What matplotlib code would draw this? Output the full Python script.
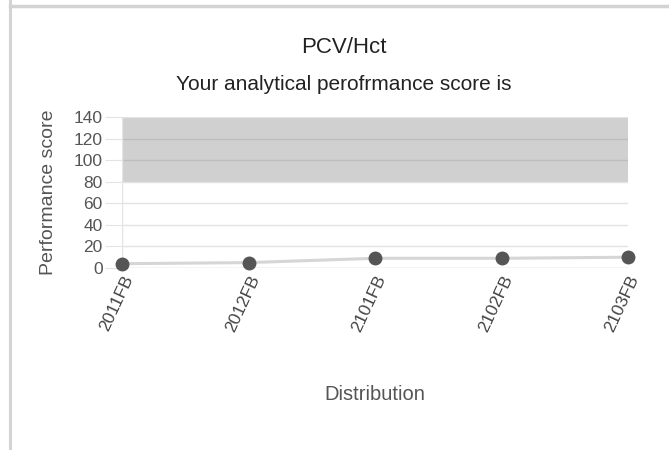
import matplotlib.pyplot as plt
import matplotlib.transforms as mtransforms
import numpy as np

plt.rcParams['font.family'] = ['Liberation Sans', 'DejaVu Sans']

# data
distributions = ['2011FB', '2012FB', '2101FB', '2102FB', '2103FB']
scores = [4, 5, 9, 9, 10]
band_low, band_high = 80, 140
y_ticks = [0, 20, 40, 60, 80, 100, 120, 140]

fig = plt.figure(figsize=(6.69, 4.5), dpi=100)
W, H = 669, 450

# frame lines of the surrounding panel
fig.add_artist(plt.Line2D([10 / W, 10 / W], [0, 1], color='#d3d3d3', lw=2.2))
fig.add_artist(plt.Line2D([10 / W, 1], [1 - 6 / H, 1 - 6 / H], color='#d3d3d3', lw=2.5))

ax = fig.add_axes([122 / W, 182 / H, 506 / W, 151 / H])
x = np.arange(len(distributions))

ax.axhspan(band_low, band_high, color='#d0d0d0', zorder=0, lw=0)
for yv in y_ticks:
    c = '#bdbdbd' if band_low < yv < band_high else '#e3e3e3'
    if yv == 0:
        c = '#c8c8c8'
    ax.axhline(yv, color=c, lw=1.0, zorder=1)
ax.axvline(0, color='#e3e3e3', lw=1.0, zorder=1)

ax.plot(x, scores, color='#d6d6d6', lw=2.2, zorder=2, clip_on=False)
ax.plot(x, scores, 'o', color='#555555', ms=9, zorder=3, clip_on=False)

ax.set_xlim(0, len(distributions) - 1)
ax.set_ylim(0, 140)
ax.set_yticks(y_ticks)
ax.set_xticks(x)
ax.set_xticklabels(distributions, rotation=65, ha='right', va='top',
                   rotation_mode='anchor', fontsize=12.5, color='#444444')
offset = mtransforms.ScaledTranslation(-3 / 100, -10.5 / 100, fig.dpi_scale_trans)
for lbl in ax.get_xticklabels():
    lbl.set_transform(lbl.get_transform() + offset)
ax.tick_params(axis='y', length=12, color='#e3e3e3', labelsize=12.5, labelcolor='#555555', pad=2)
ax.tick_params(axis='x', length=0)
for s in ax.spines.values():
    s.set_visible(False)

ax.set_ylabel('Performance score', fontsize=14, color='#555555')
ax.yaxis.set_label_coords((57 - 122) / 506, 0.5)

fig.text(344 / W, 1 - 53 / H, 'PCV/Hct', ha='center', va='baseline', fontsize=16, color='#222222')
fig.text(344 / W, 1 - 90 / H, 'Your analytical perofrmance score is', ha='center', va='baseline',
         fontsize=15, color='#222222')
fig.text(375 / W, 1 - 395 / H, 'Distribution', ha='center', va='center', fontsize=14.5, color='#555555')

fig.savefig('out.png', dpi=100)
